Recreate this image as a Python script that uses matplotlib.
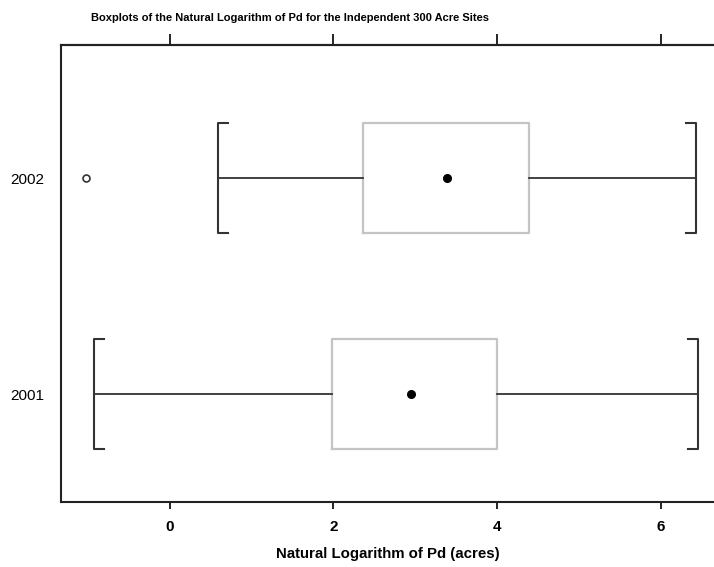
import matplotlib
matplotlib.use("Agg")
import matplotlib.pyplot as plt

years = ["2001", "2002"]
whislo = [-0.93, 0.59]
q1 = [1.98, 2.36]
med = [2.95, 3.39]
q3 = [4.00, 4.39]
whishi = [6.45, 6.43]
fliers = [[], [-1.03]]

plt.rcParams["font.family"] = ["Liberation Sans", "DejaVu Sans"]

fig = plt.figure(figsize=(7.14, 5.67), dpi=100)
ax = fig.add_axes([61 / 714, 1 - 502 / 567, 1 - 61 / 714, (502 - 45) / 567])

pos = [1, 2]
half = 0.254
stats = []
for i in range(len(years)):
    stats.append(dict(label=years[i], whislo=whislo[i], q1=q1[i], med=med[i],
                      q3=q3[i], whishi=whishi[i], fliers=fliers[i]))

ax.bxp(stats, positions=pos, vert=False, widths=2 * half, showcaps=False,
       boxprops=dict(color="#c4c4c4", linewidth=1.6),
       whiskerprops=dict(color="#333333", linewidth=1.3),
       medianprops=dict(linewidth=0),
       flierprops=dict(marker="o", markersize=5, markerfacecolor="white",
                       markeredgecolor="#333333", markeredgewidth=1.2))

# median dots
ax.plot(med, pos, "o", color="black", markersize=5.5)

# bracket caps
tick = 0.12
for i, p in enumerate(pos):
    lo, hi = whislo[i], whishi[i]
    ax.plot([lo + tick, lo, lo, lo + tick], [p - half, p - half, p + half, p + half],
            color="#333333", linewidth=1.5)
    ax.plot([hi - tick, hi, hi, hi - tick], [p - half, p - half, p + half, p + half],
            color="#333333", linewidth=1.5)

ax.set_xlim(-1.33, 6.65)
ax.set_ylim(0.5, 2.616)
ax.set_yticks(pos)
ax.set_yticklabels(years, fontsize=11)
ax.tick_params(axis="y", length=0, pad=12)
ax.set_xticks([0, 2, 4, 6])
ax.set_xticklabels(["0", "2", "4", "6"], fontsize=11, fontweight="bold")
ax.tick_params(axis="x", which="major", bottom=True, direction="out", length=5, width=1.2, pad=8)
ax.spines["right"].set_visible(False)
for s in ["left", "top", "bottom"]:
    ax.spines[s].set_linewidth(1.5)
    ax.spines[s].set_color("#222222")

# top ticks are longer than the bottom ones
top = ax.secondary_xaxis("top")
top.set_xticks([0, 2, 4, 6])
top.set_xticklabels([])
top.tick_params(length=8, width=1.2, direction="out")
top.spines["top"].set_linewidth(1.5)
top.spines["top"].set_color("#222222")

ax.set_xlabel("Natural Logarithm of Pd (acres)", fontsize=10.8, fontweight="bold", labelpad=9)
fig.text(290 / 714, 1 - 18 / 567, "Boxplots of the Natural Logarithm of Pd for the Independent 300 Acre Sites",
         ha="center", va="center", fontsize=8, fontweight="bold")

fig.savefig("out.png", dpi=100)
